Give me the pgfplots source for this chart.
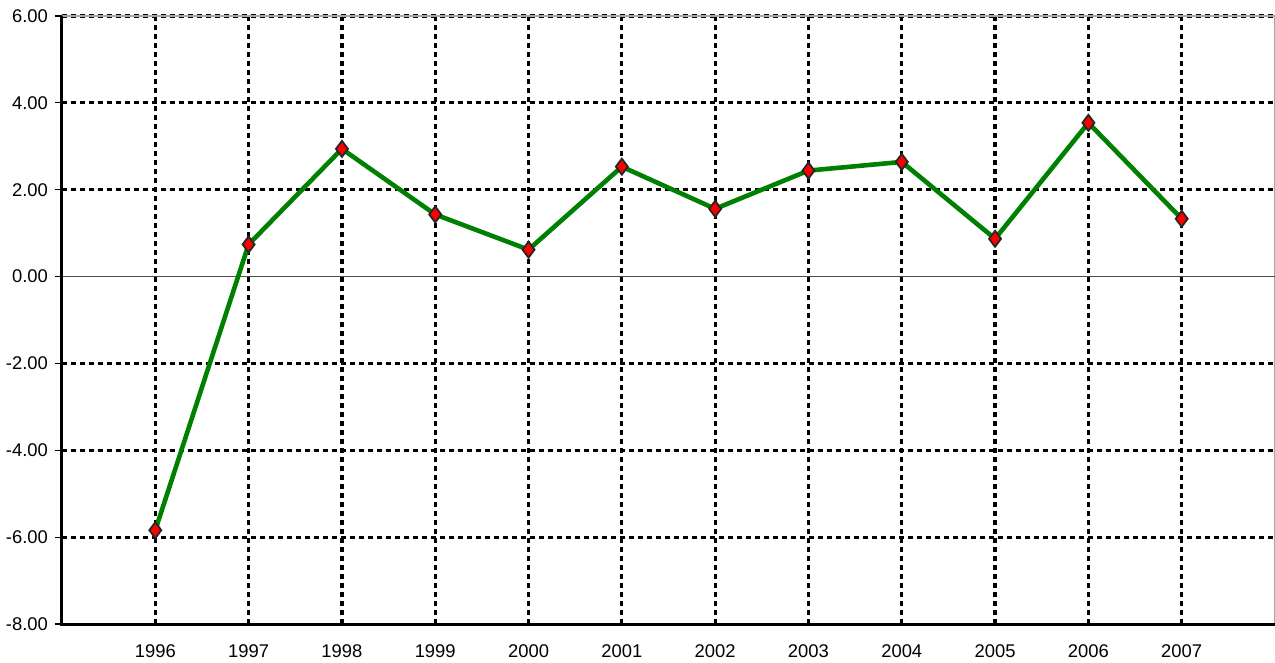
\documentclass[border=0pt]{standalone}
\usepackage{pgfplots}
\pgfplotsset{compat=1.18}
\usepackage{fontspec}
\setmainfont{Liberation Sans}
\definecolor{lgreen}{RGB}{0,128,0}
\begin{document}
\begin{tikzpicture}
\begin{axis}[
  name=ax,
  scale only axis,
  width=606.5pt, height=304pt,
  xmin=-1, xmax=12, ymin=-8, ymax=6,
  xtick={0,...,11},
  xticklabels={1996,1997,1998,1999,2000,2001,2002,2003,2004,2005,2006,2007},
  ytick={-8,-6,...,6},
  extra y ticks={-6,-4,-2,2,4,6},
  extra y tick labels={},
  extra y tick style={ymajorgrids=true, major tick length=0pt},
  xmajorgrids=true,
  grid style={black, line width=1.6pt, dash pattern=on 2.5pt off 2pt},
  axis line style={draw=none},
  tick style={black, line width=0.6pt},
  major tick length=3.5pt,
  xtick style={draw=none},
  ytick align=outside,
  y tick label style={/pgf/number format/fixed, /pgf/number format/fixed zerofill, /pgf/number format/precision=2},
  /pgf/number format/assume math mode=true,
  tick label style={font=\fontsize{9.2}{11}\selectfont},
  x tick label style={yshift=-7pt},
  clip=false,
]
\draw[gray!70, line width=0.6pt] (rel axis cs:0,1) -- (rel axis cs:1,1) -- (rel axis cs:1,0);
\draw[gray!60!black, line width=0.7pt] (axis cs:-1,0) -- (axis cs:12,0);
\draw[black, line width=1.5pt] (rel axis cs:0,1) -- (rel axis cs:0,0) -- (rel axis cs:1,0);
\addplot[lgreen, line width=2.3pt, mark=diamond*, mark size=4pt,
  mark options={fill=red, draw=black!85, line width=0.9pt}]
  coordinates {(0,-5.84) (1,0.74) (2,2.94) (3,1.43) (4,0.62) (5,2.53)
   (6,1.56) (7,2.44) (8,2.64) (9,0.87) (10,3.54) (11,1.33)};
\end{axis}
\pgfresetboundingbox
\path ([shift={(-31pt,-19pt)}]ax.south west) rectangle ([shift={(0pt,8pt)}]ax.north east);
\end{tikzpicture}
\end{document}
